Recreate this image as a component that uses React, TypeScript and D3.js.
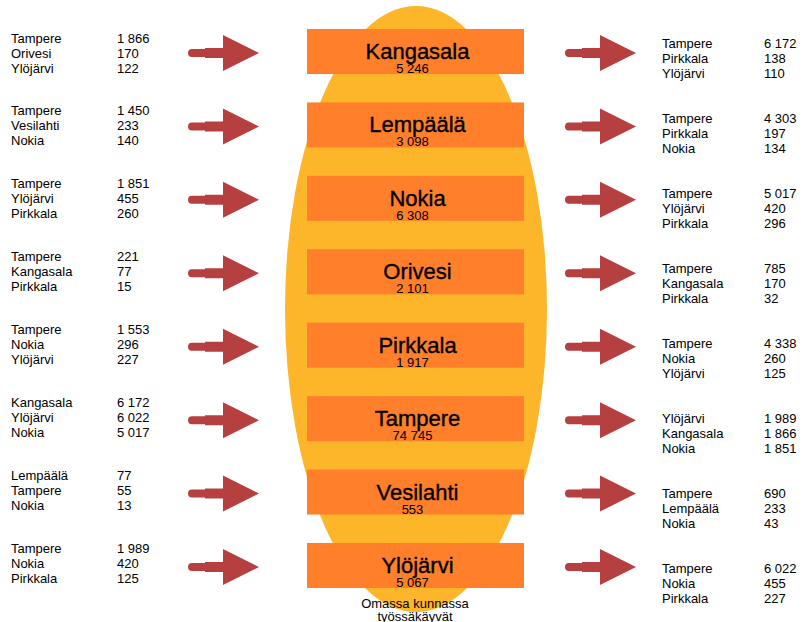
import React, { useEffect, useRef } from "react";
import * as d3 from "d3";

// municipalities shown in the middle column
const municipalities = [
  "Kangasala",
  "Lempäälä",
  "Nokia",
  "Orivesi",
  "Pirkkala",
  "Tampere",
  "Vesilahti",
  "Ylöjärvi",
];

// people working in their own municipality
const ownMunicipality = [5246, 3098, 6308, 2101, 1917, 74745, 553, 5067];

// incoming commuters (left side)
const incomingNames = [
  ["Tampere", "Orivesi", "Ylöjärvi"],
  ["Tampere", "Vesilahti", "Nokia"],
  ["Tampere", "Ylöjärvi", "Pirkkala"],
  ["Tampere", "Kangasala", "Pirkkala"],
  ["Tampere", "Nokia", "Ylöjärvi"],
  ["Kangasala", "Ylöjärvi", "Nokia"],
  ["Lempäälä", "Tampere", "Nokia"],
  ["Tampere", "Nokia", "Pirkkala"],
];
const incomingValues = [
  [1866, 170, 122],
  [1450, 233, 140],
  [1851, 455, 260],
  [221, 77, 15],
  [1553, 296, 227],
  [6172, 6022, 5017],
  [77, 55, 13],
  [1989, 420, 125],
];

// outgoing commuters (right side)
const outgoingNames = [
  ["Tampere", "Pirkkala", "Ylöjärvi"],
  ["Tampere", "Pirkkala", "Nokia"],
  ["Tampere", "Ylöjärvi", "Pirkkala"],
  ["Tampere", "Kangasala", "Pirkkala"],
  ["Tampere", "Nokia", "Ylöjärvi"],
  ["Ylöjärvi", "Kangasala", "Nokia"],
  ["Tampere", "Lempäälä", "Nokia"],
  ["Tampere", "Nokia", "Pirkkala"],
];
const outgoingValues = [
  [6172, 138, 110],
  [4303, 197, 134],
  [5017, 420, 296],
  [785, 170, 32],
  [4338, 260, 125],
  [1989, 1866, 1851],
  [690, 233, 43],
  [6022, 455, 227],
];

const footer = ["Omassa kunnassa", "työssäkäyvät"];

const WIDTH = 803;
const HEIGHT = 622;
const FONT = "'Liberation Sans', Arial, sans-serif";

// finnish style thousands separator: "1 866"
const fmt = (v: number) =>
  d3.format(",")(v).replace(/,/g, " ");

function CommuteChart() {
  const ref = useRef<SVGSVGElement | null>(null);

  useEffect(() => {
    drawChart();
  }, []);

  function drawChart() {
    const svg = d3.select(ref.current);
    svg.selectAll("*").remove();

    // rows of boxes in the middle
    const yBox = d3
      .scaleBand<string>()
      .domain(municipalities)
      .range([29, 588])
      .paddingInner(0.387)
      .paddingOuter(0);

    const idx = d3.range(municipalities.length);
    // text blocks on each side drift a little from the boxes
    const yLeftText = d3.scaleLinear().domain([0, 7]).range([38, 548]);
    const yRightText = d3.scaleLinear().domain([0, 7]).range([43, 568]);

    const boxX0 = 307;
    const boxX1 = 524;
    const cx = (boxX0 + boxX1) / 2;

    // big background ellipse
    svg
      .append("ellipse")
      .attr("cx", 416)
      .attr("cy", 309)
      .attr("rx", 131)
      .attr("ry", 303)
      .attr("fill", "#fdb52a");

    // boxes
    const rows = svg
      .selectAll(".row")
      .data(municipalities)
      .join("g")
      .attr("class", "row")
      .attr("transform", (d) => `translate(0,${yBox(d)})`);

    rows
      .append("rect")
      .attr("x", boxX0)
      .attr("width", boxX1 - boxX0)
      .attr("height", yBox.bandwidth())
      .attr("fill", "#ff7f2a");

    rows
      .append("text")
      .attr("x", cx + 2)
      .attr("y", 30)
      .attr("text-anchor", "middle")
      .attr("font-family", FONT)
      .attr("font-size", 22)
      .attr("fill", "#000")
      .attr("stroke", "#000")
      .attr("stroke-width", 0.35)
      .text((d) => d);

    rows
      .append("text")
      .attr("x", cx - 3)
      .attr("y", 44)
      .attr("text-anchor", "middle")
      .attr("font-family", FONT)
      .attr("font-size", 13)
      .attr("fill", "#000")
      .text((d, i) => fmt(ownMunicipality[i]));

    // arrows
    const arrowPath = (x0: number, yc: number) => {
      const p = d3.path();
      p.moveTo(x0 + 4, yc - 4);
      p.lineTo(x0 + 17, yc - 4);
      p.lineTo(x0 + 17, yc - 5);
      p.lineTo(x0 + 35, yc - 5);
      p.lineTo(x0 + 35, yc - 18);
      p.lineTo(x0 + 71, yc);
      p.lineTo(x0 + 35, yc + 18);
      p.lineTo(x0 + 35, yc + 5);
      p.lineTo(x0 + 17, yc + 5);
      p.lineTo(x0 + 17, yc + 4);
      p.lineTo(x0 + 4, yc + 4);
      p.arc(x0 + 4, yc, 4, Math.PI / 2, (3 * Math.PI) / 2);
      p.closePath();
      return p.toString();
    };

    [188, 565].forEach((x0) => {
      svg
        .append("g")
        .selectAll("path")
        .data(municipalities)
        .join("path")
        .attr("d", (d) => arrowPath(x0, yBox(d)! + yBox.bandwidth() / 2 + 1.5))
        .attr("fill", "#b5403f");
    });

    // side lists
    const drawList = (
      names: string[][],
      values: number[][],
      yScale: d3.ScaleLinear<number, number>,
      xName: number,
      xValue: number
    ) => {
      const g = svg.append("g").attr("font-family", FONT).attr("font-size", 13);
      idx.forEach((i) => {
        names[i].forEach((n, j) => {
          const y = yScale(i) + j * 15;
          g.append("text")
            .attr("x", xName)
            .attr("y", y)
            .attr("dy", "0.35em")
            .attr("fill", "#000")
            .text(n);
          g.append("text")
            .attr("x", xValue)
            .attr("y", y)
            .attr("dy", "0.35em")
            .attr("fill", "#000")
            .text(fmt(values[i][j]));
        });
      });
    };

    drawList(incomingNames, incomingValues, yLeftText, 11, 117);
    drawList(outgoingNames, outgoingValues, yRightText, 662, 764);

    // footer label
    svg
      .append("g")
      .selectAll("text")
      .data(footer)
      .join("text")
      .attr("x", 415)
      .attr("y", (d, i) => 603 + i * 13)
      .attr("dy", "0.35em")
      .attr("text-anchor", "middle")
      .attr("font-family", FONT)
      .attr("font-size", 13)
      .attr("fill", "#000")
      .text((d) => d);
  }

  return (
    <svg
      ref={ref}
      width={WIDTH}
      height={HEIGHT}
      style={{ display: "block", position: "absolute", left: 0, top: 0, background: "#fff" }}
    />
  );
}

export default function App() {
  return <CommuteChart />;
}
